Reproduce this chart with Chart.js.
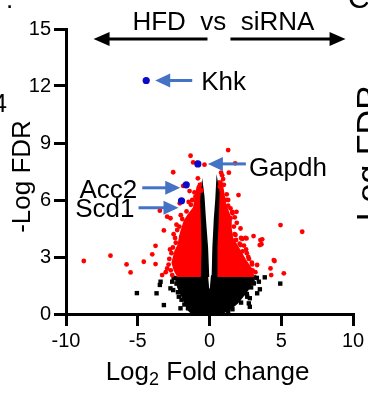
<!DOCTYPE html>
<html>
<head>
<meta charset="utf-8">
<script src="https://cdn.jsdelivr.net/npm/chart.js@4/dist/chart.umd.min.js"></script>
<style>
  html, body { margin: 0; padding: 0; background: #fff; }
  #wrap { width: 368px; height: 394px; position: relative; }
</style>
</head>
<body>
<div id="wrap"><canvas id="volcano"></canvas></div>
<script>
// Axis ticks
const xTickValues = [-10, -5, 0, 5, 10];
const yTickValues = [0, 3, 6, 9, 12, 15];

// Dense cloud outlines (log2 fold change, -log10 FDR)
const sigCloudLeftX  = [-2.2, -2.45, -2.6, -2.4, -2.2, -2.0, -1.75, -1.5, -1.1, -1.0, -0.85, -0.6, -0.5, -0.45];
const sigCloudLeftY  = [1.95, 2.3, 2.7, 3.3, 3.6, 4.3, 4.9, 5.2, 5.6, 6.1, 6.7, 6.9, 6.0, 1.95];
const sigCloudRightX = [0.45, 0.5, 0.62, 0.85, 1.0, 1.1, 1.5, 1.5, 1.6, 2.0, 2.5, 2.9, 3.1];
const sigCloudRightY = [1.95, 6.0, 7.0, 7.0, 6.3, 5.8, 5.0, 4.5, 4.0, 3.5, 2.85, 2.4, 1.95];
const nsCloudX = [-1.2, -1.46, -1.9, -2.2, -2.4, -0.15, -0.07, 0.07, 0.15, 3.2, 2.95, 2.65, 2.3, 1.95, 1.5, 1.0, 0.5];
const nsCloudY = [0, 0.2, 0.9, 1.4, 1.95, 2.0, 1.3, 1.3, 2.0, 2.0, 1.6, 1.25, 0.9, 0.58, 0.3, 0.08, 0.0];
const nsBandLeftX  = [-0.55, -0.5, -0.55, -0.6, -0.5, -0.4, -0.3, -0.15, -0.07];
const nsBandLeftY  = [1.95, 3.5, 5.0, 6.0, 6.8, 6.2, 5.0, 3.5, 1.95];
const nsBandRightX = [0.2, 0.25, 0.35, 0.45, 0.52, 0.65, 0.6, 0.5, 0.5];
const nsBandRightY = [1.95, 3.5, 5.0, 6.0, 7.0, 6.4, 5.0, 3.5, 1.95];

// Individual significant genes outside the dense cloud
const sigLog2FC = [-8.76, -6.9, -5.78, -5.5, -4.58, -3.99, -3.76, -3.76, -3.46, -3.30, -3.18, -2.95, -2.95, -2.72,
  -2.53, -2.25, -2.07, -1.97, -1.83, -1.39, -1.32, -1.14, -0.98, -0.86, -0.81, -0.67, -0.56, -0.35,
  -2.7, -2.8, -2.65, -2.55, -2.35, -2.4, -2.1, -1.9, -1.6, -1.3, -1.2, -1.05, -3.05, -2.6,
  -2.85, -2.75, -2.5, -2.3, -2.0, -1.45,
  0.72, 0.81, 0.88, 1.14, 1.30, 1.30, 1.35, 1.46, 1.46, 1.58, 1.76, 1.79, 1.81, 1.88, 2.02, 2.16, 2.16,
  2.28, 2.5, 2.58, 2.97, 3.07, 3.32, 3.5, 3.55, 3.62, 3.67, 4.25, 4.3, 4.48, 4.53, 4.95, 5.18, 6.46,
  3.2, 2.95, 2.7, 2.3, 2.1, 1.75, 1.7, 1.6, 1.3, 1.2, 1.0, 0.95, 2.4, 2.6, 2.85,
  2.75, 3.0, 2.55, 2.2, 1.9, 1.85];
const sigNegLogFDR = [2.79, 3.07, 2.61, 2.19, 2.75, 3.14, 3.59, 2.63, 5.44, 2.05, 4.4, 2.4, 5.12, 5.04,
  7.46, 4.42, 5.83, 4.07, 6.74, 6.47, 8.33, 7.98, 6.17, 7.95, 7.14, 6.79, 6.5, 7.86,
  2.3, 2.9, 3.2, 3.5, 3.75, 4.0, 4.6, 5.0, 5.4, 5.75, 6.0, 6.4, 2.2, 2.05,
  2.6, 3.4, 4.2, 4.7, 5.2, 5.9,
  6.70, 7.44, 7.3, 6.0, 6.0, 8.63, 7.44, 5.56, 5.04, 5.38, 5.09, 7.93, 4.16, 5.38, 6.26, 3.63, 4.5,
  3.95, 4.0, 3.98, 2.61, 4.1, 2.58, 3.63, 3.89, 3.67, 3.93, 2.4, 2.05, 2.84, 2.79, 4.68, 2.14, 4.33,
  2.2, 2.7, 3.0, 3.3, 3.7, 4.2, 4.6, 5.3, 5.7, 6.3, 6.8, 7.1, 3.6, 3.2, 2.3,
  2.9, 2.3, 3.4, 4.0, 4.8, 3.9];

// Individual non-significant genes outside the dense cloud
const nsLog2FC = [-5.06, -3.69, -3.41, -3.46, -3.18, -2.72, -2.53, -2.14, -2.02, 2.11, 2.39, 2.63, 2.74, 2.81, 2.81,
  3.09, 3.32, 3.44, 3.51, 3.85, 4.93, -2.5, -2.3, -1.75, -1.5, 2.0, 2.4, 3.0, 1.6,
  -2.6, -2.2, -1.95, 2.9, 2.6, 2.2, 3.3, 1.3];
const nsNegLogFDR = [1.1, 1.09, 1.7, 1.53, 0.47, 1.35, 1.26, 0.91, 0.3, 1.53, 1.79, 0.91, 0.56, 0.83, 0.38,
  1.61, 1.09, 1.7, 1.3, 1.93, 1.6, 1.9, 1.6, 0.5, 0.3, 0.8, 1.2, 1.8, 0.25,
  1.7, 1.15, 0.75, 1.4, 1.05, 0.6, 1.9, 0.12];

// Highlighted genes
const geneNames = ['Khk', 'Gapdh', 'Acc2', 'Scd1'];
const geneLog2FC = [-4.41, -0.81, -1.62, -1.95];
const geneNegLogFDR = [12.29, 7.9, 6.8, 5.96];

const FONT = '"Liberation Sans", Arial, Helvetica, sans-serif';
const RED = '#ff0000';
const BLACK = '#000000';
const CALLOUT_BLUE = '#4472c4';

// Callout geometry in pixels relative to each highlighted point
const calloutStyle = [
  { align: 'left',  arrow: [46, 0, 9, 0],   text: [55, 10] },
  { align: 'left',  arrow: [48, 0, 10, 0],  text: [51, 12] },
  { align: 'right', arrow: [-44, 3, -6, 3], text: [-49, 13] },
  { align: 'right', arrow: [-43, 7, -3, 7], text: [-47, 16] }
];

const zip = (xs, ys) => xs.map((v, i) => ({ x: v, y: ys[i] }));

function shape(xs, ys, color, order) {
  return {
    data: zip(xs, ys), showLine: true, fill: 'shape', tension: 0,
    backgroundColor: color, borderColor: color, borderWidth: 1.5,
    pointRadius: 0, pointHoverRadius: 0, order
  };
}

function drawArrow(ctx, x0, y0, x1, y1, color, lw, headLen, headHalf) {
  const a = Math.atan2(y1 - y0, x1 - x0);
  const bx = x1 - headLen * Math.cos(a), by = y1 - headLen * Math.sin(a);
  ctx.strokeStyle = color; ctx.lineWidth = lw; ctx.lineCap = 'butt';
  ctx.beginPath(); ctx.moveTo(x0, y0); ctx.lineTo(bx + Math.cos(a), by + Math.sin(a)); ctx.stroke();
  ctx.fillStyle = color;
  ctx.beginPath();
  ctx.moveTo(x1, y1);
  ctx.lineTo(bx - headHalf * Math.sin(a), by + headHalf * Math.cos(a));
  ctx.lineTo(bx + headHalf * Math.sin(a), by - headHalf * Math.cos(a));
  ctx.closePath(); ctx.fill();
}

const annotations = {
  id: 'annotations',
  afterDraw(chart) {
    const { ctx, scales: { x, y }, chartArea: area } = chart;
    ctx.save();
    ctx.fillStyle = BLACK;
    ctx.textBaseline = 'alphabetic';

    // Comparison header with direction arrows
    const ay = y.getPixelForValue(14.47);
    drawArrow(ctx, x.getPixelForValue(-0.14), ay, x.getPixelForValue(-8.08), ay, BLACK, 3, 16, 7);
    drawArrow(ctx, x.getPixelForValue(1.46), ay, x.getPixelForValue(9.48), ay, BLACK, 3, 16, 7);
    ctx.fillStyle = BLACK;
    ctx.font = '26px ' + FONT;
    ctx.textAlign = 'left';
    ctx.fillText('HFD  vs  siRNA', x.getPixelForValue(-5.37), area.top + 1);

    // Gene callouts
    geneNames.forEach((name, i) => {
      const px = x.getPixelForValue(geneLog2FC[i]);
      const py = y.getPixelForValue(geneNegLogFDR[i]);
      const s = calloutStyle[i];
      drawArrow(ctx, px + s.arrow[0], py + s.arrow[1], px + s.arrow[2], py + s.arrow[3], CALLOUT_BLUE, 3, 15, 7);
      ctx.fillStyle = BLACK;
      ctx.font = '26px ' + FONT;
      ctx.textAlign = s.align;
      ctx.fillText(name, px + s.text[0], py + s.text[1]);
    });

    // Axis titles
    ctx.font = '26px ' + FONT;
    ctx.textAlign = 'left';
    const cx = (area.left + area.right) / 2 - 2;
    const partA = 'Log', partB = ' Fold change';
    const wA = ctx.measureText(partA).width, wB = ctx.measureText(partB).width;
    ctx.font = '18px ' + FONT;
    const wSub = ctx.measureText('2').width;
    let tx = cx - (wA + wSub + wB) / 2;
    const base = area.bottom + 66;
    ctx.font = '26px ' + FONT; ctx.fillText(partA, tx, base); tx += wA;
    ctx.font = '18px ' + FONT; ctx.fillText('2', tx, base + 5); tx += wSub;
    ctx.font = '26px ' + FONT; ctx.fillText(partB, tx, base);

    ctx.save();
    ctx.translate(30, (area.top + area.bottom) / 2 + 5);
    ctx.rotate(-Math.PI / 2);
    ctx.textAlign = 'center';
    ctx.fillText('-Log FDR', 0, 0);
    ctx.restore();

    // Edges of the neighbouring panels
    ctx.font = '26px ' + FONT;
    ctx.textAlign = 'right';
    ctx.fillText('4', 7, 112);
    ctx.textAlign = 'left';
    ctx.fillText('.', 6, 8);
    ctx.font = '30px ' + FONT;
    ctx.fillText('C', 348, 8);
    ctx.save();
    ctx.font = '34px ' + FONT;
    ctx.translate(380, 159);
    ctx.rotate(-Math.PI / 2);
    ctx.textAlign = 'center';
    ctx.fillText('-Log FDR', 0, 0);
    ctx.restore();

    ctx.restore();
  }
};

new Chart(document.getElementById('volcano'), {
  type: 'scatter',
  data: {
    datasets: [
      { data: zip(geneLog2FC, geneNegLogFDR), backgroundColor: '#0a0ac8', borderWidth: 0, pointRadius: 3.6, order: 0 },
      { data: zip(sigLog2FC, sigNegLogFDR), backgroundColor: RED, borderWidth: 0, pointRadius: 2.4, order: 1 },
      { data: zip(nsLog2FC, nsNegLogFDR), backgroundColor: BLACK, borderWidth: 0, pointStyle: 'rect', pointRadius: 3.1, order: 2 },
      shape(nsBandLeftX, nsBandLeftY, BLACK, 3),
      shape(nsBandRightX, nsBandRightY, BLACK, 3),
      shape(sigCloudLeftX, sigCloudLeftY, RED, 4),
      shape(sigCloudRightX, sigCloudRightY, RED, 4),
      shape(nsCloudX, nsCloudY, BLACK, 5)
    ]
  },
  options: {
    responsive: true,
    maintainAspectRatio: false,
    animation: false,
    events: [],
    layout: { padding: { top: 29, right: 15, bottom: 0, left: 0 } },
    plugins: { legend: { display: false }, tooltip: { enabled: false } },
    scales: {
      x: {
        type: 'linear', min: -10, max: 10,
        afterBuildTicks: s => { s.ticks = xTickValues.map(v => ({ value: v })); },
        afterFit: s => { s.height = 80; },
        ticks: { font: { size: 20, family: FONT }, color: BLACK, padding: 3, maxRotation: 0, autoSkip: false },
        grid: { drawOnChartArea: false, drawTicks: true, tickLength: 12, color: BLACK, lineWidth: 3 },
        border: { display: true, color: BLACK, width: 3 }
      },
      y: {
        type: 'linear', min: 0, max: 15,
        afterBuildTicks: s => { s.ticks = yTickValues.map(v => ({ value: v })); },
        afterFit: s => { s.width = 66; },
        ticks: { font: { size: 20, family: FONT }, color: BLACK, padding: 3, autoSkip: false },
        grid: { drawOnChartArea: false, drawTicks: true, tickLength: 12, color: BLACK, lineWidth: 3 },
        border: { display: true, color: BLACK, width: 3 }
      }
    }
  },
  plugins: [annotations]
});
</script>
</body>
</html>
